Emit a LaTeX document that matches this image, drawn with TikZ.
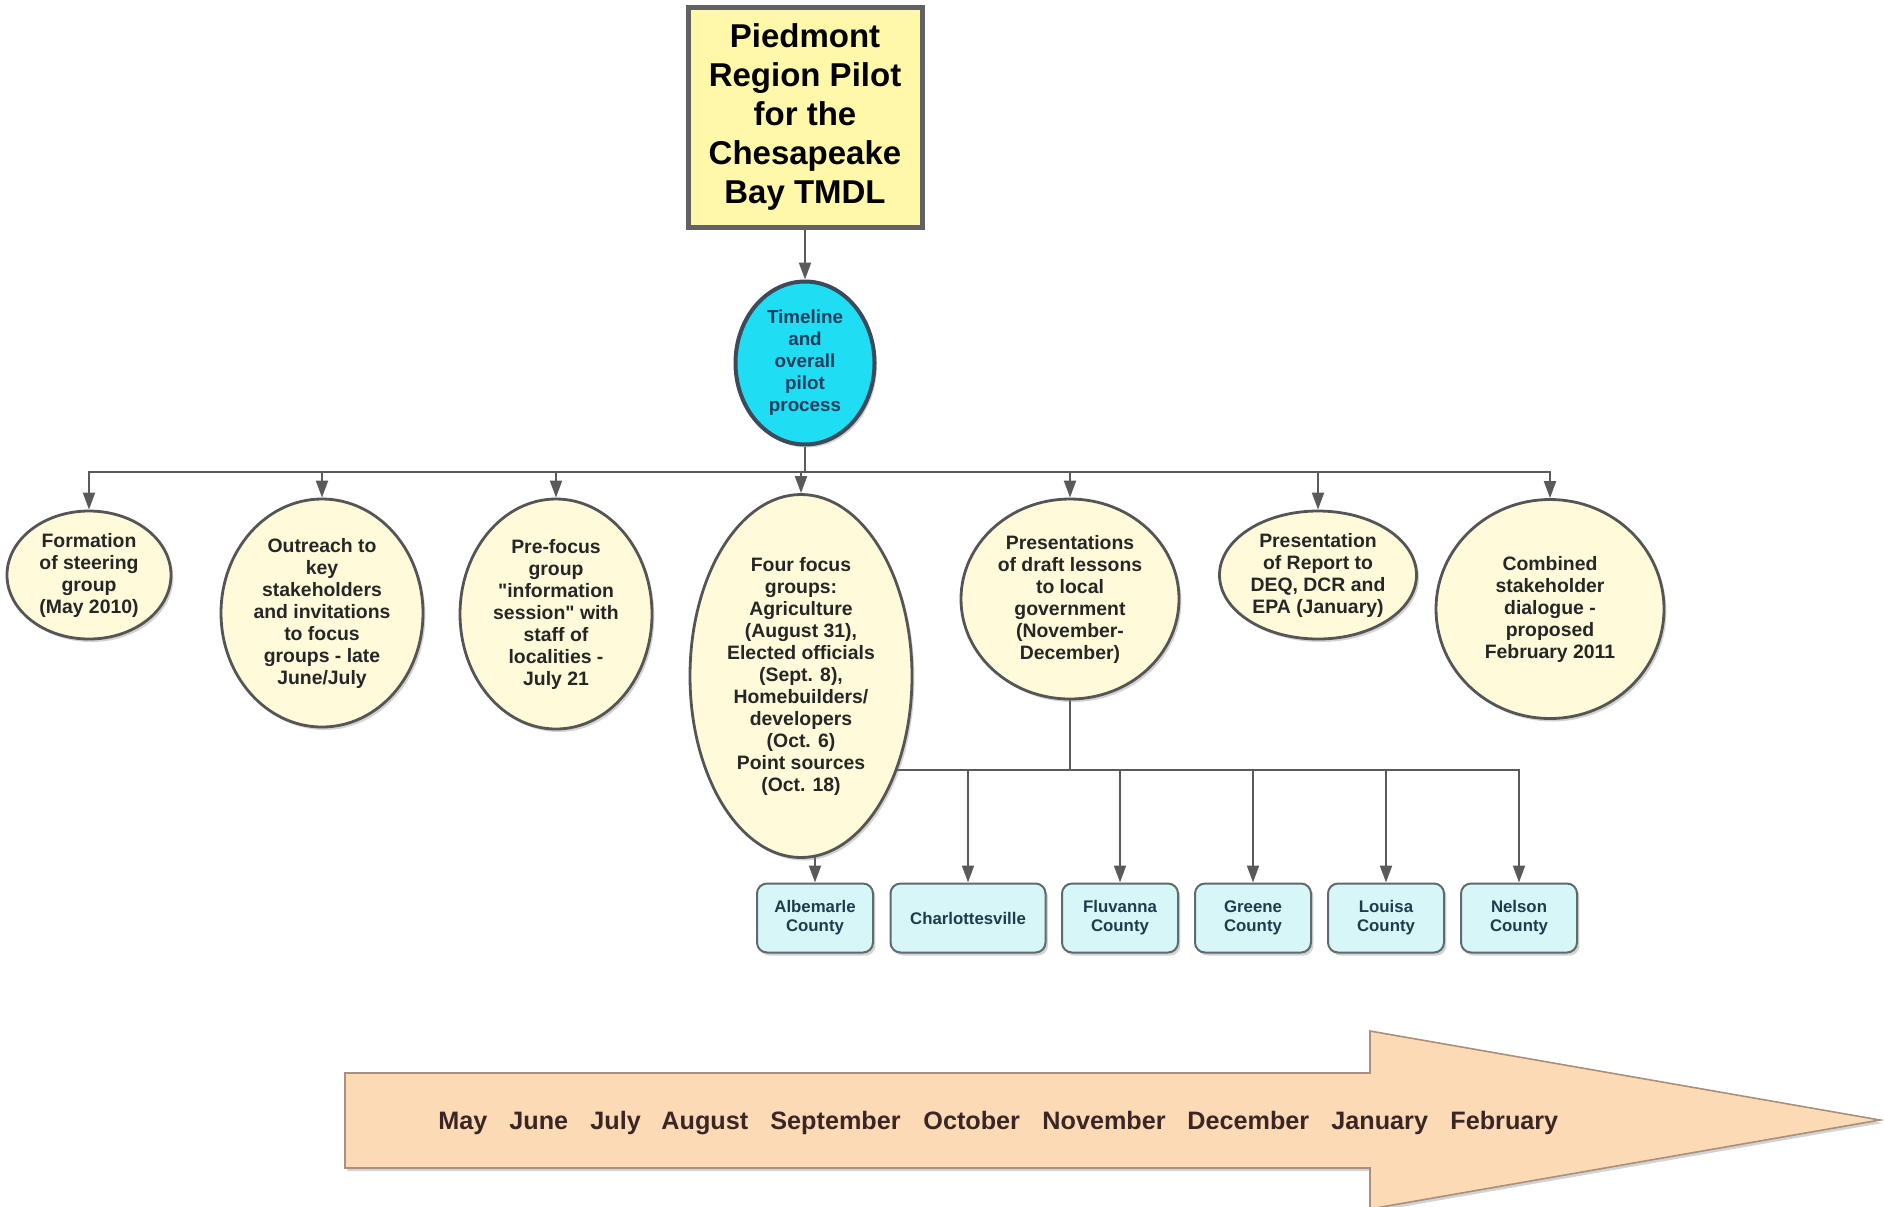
\documentclass[tikz,border=0pt]{standalone}
\usepackage{fontspec}
\setmainfont{Liberation Sans}
\usetikzlibrary{shapes.geometric,arrows.meta,shadows,backgrounds}

\newcommand\dquote{\XeTeXglyph\XeTeXcharglyph"22\relax}

\definecolor{linegray}{HTML}{5A5A5A}
\definecolor{titlefill}{HTML}{FFF8A8}
\definecolor{titleline}{HTML}{626262}
\definecolor{ovalfill}{HTML}{FFFBDA}
\definecolor{ovalline}{HTML}{555555}
\definecolor{cyanfill}{HTML}{1FDDF3}
\definecolor{cyanline}{HTML}{3C4A5C}
\definecolor{cyantext}{HTML}{1B3D5E}
\definecolor{countyfill}{HTML}{D6F6F8}
\definecolor{countyline}{HTML}{5F6A6C}
\definecolor{countytext}{HTML}{1E3C4C}
\definecolor{arrowfill}{HTML}{FDDAB6}
\definecolor{arrowline}{HTML}{A8907A}
\definecolor{monthtext}{HTML}{3A2626}

\tikzset{
  arr/.style={draw=linegray, line width=1pt, -{Triangle[width=6pt,length=8.5pt]}},
  link/.style={draw=linegray, line width=1pt},
  boxshadow/.style={drop shadow={shadow xshift=1.2pt, shadow yshift=-1.5pt, opacity=.35}},
  titlebox/.style={rectangle, draw=titleline, line width=2.5pt, fill=titlefill, boxshadow,
    minimum width=117pt, minimum height=110pt, inner sep=0pt, align=center,
    font=\bfseries\fontsize{16.5}{19.5}\selectfont},
  hub/.style={ellipse, draw=cyanline, line width=2pt, fill=cyanfill, boxshadow,
    minimum width=69.5pt, minimum height=81.5pt, inner sep=0pt, align=center, text=cyantext,
    font=\bfseries\fontsize{9.4}{11}\selectfont},
  oval/.style={ellipse, draw=ovalline, line width=1.4pt, fill=ovalfill, boxshadow,
    inner sep=0pt, align=center, text=black!85,
    font=\bfseries\fontsize{9.7}{11}\selectfont},
  county/.style={rectangle, rounded corners=5pt, draw=countyline, line width=1pt, fill=countyfill,
    boxshadow, minimum width=58pt, minimum height=34.5pt, inner sep=0pt, align=center,
    text=countytext, font=\bfseries\fontsize{8.4}{9.5}\selectfont},
  month/.style={anchor=base west, inner sep=0pt, text=monthtext, font=\bfseries\fontsize{12.6}{14}\selectfont}
}

\begin{document}
\begin{tikzpicture}[x=0.5pt, y=-0.5pt]
  \useasboundingbox (0,0) rectangle (1884,1206);

  % title and hub
  \node[titlebox] (title) at (805,117) {Piedmont\\Region Pilot\\for the\\Chesapeake\\Bay TMDL};
  \node[hub] (tl) at (805,363) {Timeline\\and\\overall\\pilot\\process};

  % steps
  \node[oval, minimum width=82pt, minimum height=64pt] (steer) at (89,575)
    {Formation\\of steering\\group\\(May 2010)};
  \node[oval, minimum width=101pt, minimum height=114pt] (outr) at (322,613)
    {Outreach to\\key\\stakeholders\\and invitations\\to focus\\groups - late\\June/July};
  \node[oval, minimum width=96pt, minimum height=115pt] (pref) at (556,614)
    {Pre-focus\\group\\\dquote information\\session\dquote{} with\\staff of\\localities -\\July 21};
  \node[oval, minimum width=111pt, minimum height=181.5pt] (four) at (801,676)
    {Four focus\\groups:\\Agriculture\\(August 31),\\Elected officials\\(Sept. 8),\\Homebuilders/\\developers\\(Oct. 6)\\Point sources\\(Oct. 18)};
  \node[oval, minimum width=109pt, minimum height=100pt] (pres) at (1070,599)
    {Presentations\\of draft lessons\\to local\\government\\(November-\\December)};
  \node[oval, minimum width=98.5pt, minimum height=64pt] (rep) at (1318,575)
    {Presentation\\of Report to\\DEQ, DCR and\\EPA (January)};
  \node[oval, minimum width=114pt, minimum height=109.5pt] (comb) at (1550,609)
    {Combined\\stakeholder\\dialogue -\\proposed\\February 2011};

  % localities
  \node[county] (alb) at (815,918) {Albemarle\\County};
  \node[county, minimum width=77.5pt] (cville) at (968,918) {Charlottesville};
  \node[county] (fluv) at (1120,918) {Fluvanna\\County};
  \node[county] (greene) at (1253,918) {Greene\\County};
  \node[county] (louisa) at (1386,918) {Louisa\\County};
  \node[county] (nelson) at (1519,918) {Nelson\\County};

  % connectors
  \begin{pgfonlayer}{background}
    \draw[arr] (title.south) -- (tl.north);
    \coordinate (bus) at (805,472);
    \draw[link] (tl.south) -- (bus);
    \foreach \n in {steer,outr,pref,four,pres,rep,comb}
      \draw[arr] (bus) -| (\n.north);
    \coordinate (cbus) at (1070,770);
    \draw[link] (pres.south) -- (cbus);
    \foreach \n in {alb,cville,fluv,greene,louisa,nelson}
      \draw[arr] (cbus) -| (\n.north);
  \end{pgfonlayer}

  % timeline
  \filldraw[fill=arrowfill, draw=arrowline, line width=.8pt, boxshadow]
    (345,1073) -- (1370,1073) -- (1370,1031) -- (1880,1120) -- (1370,1209)
    -- (1370,1168) -- (345,1168) -- cycle;
  \foreach \m/\x in {May/438, June/509, July/590, August/661, September/770,
      October/923, November/1042, December/1187, January/1331, February/1450}
    \node[month] (m-\m) at (\x,1129) {\m};

\end{tikzpicture}
\end{document}
